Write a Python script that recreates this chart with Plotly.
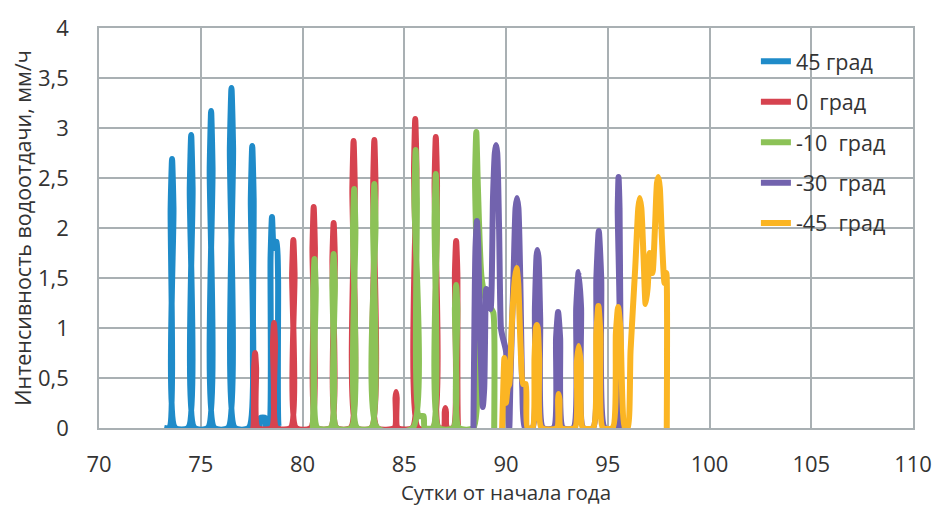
import plotly.graph_objects as go

# Интенсивность водоотдачи снежного покрова для разных углов склона
x_45 = [73.20, 73.45, 73.52, 73.59, 73.66, 73.74, 74.38, 74.46, 74.53, 74.60, 74.69,
        75.35, 75.44, 75.51, 75.58, 75.67, 76.34, 76.43, 76.51, 76.59, 76.68,
        77.36, 77.46, 77.53, 77.60, 77.70, 77.88, 77.93, 78.17, 78.22,
        78.34, 78.43, 78.50, 78.58, 78.66, 78.73, 78.80, 78.87, 78.95]
y_45 = [0, 0, 2.2, 2.69, 2.2, 0, 0, 2.4, 2.93, 2.4, 0,
        0, 2.6, 3.17, 2.6, 0, 0, 2.8, 3.40, 2.8, 0,
        0, 2.3, 2.82, 2.3, 0, 0, 0.1, 0.1, 0,
        0, 1.7, 2.11, 1.8, 1.86, 1.86, 1.5, 0, 0]

x_0 = [77.43, 77.55, 77.62, 77.67, 77.72, 77.80, 78.48, 78.55, 78.60, 78.65, 78.72,
       79.42, 79.49, 79.55, 79.61, 79.68, 80.41, 80.49, 80.55, 80.61, 80.69,
       81.39, 81.47, 81.53, 81.59, 81.67, 82.37, 82.45, 82.51, 82.57, 82.65,
       83.39, 83.47, 83.53, 83.59, 83.67, 84.52, 84.57, 84.60, 84.63, 84.68,
       85.40, 85.48, 85.54, 85.60, 85.68, 86.41, 86.49, 86.55, 86.61, 86.69,
       86.95, 86.99, 87.02, 87.05, 87.09, 87.41, 87.49, 87.55, 87.61, 87.69, 87.75]
y_0 = [0, 0, 0.6, 0.75, 0.6, 0, 0, 0.85, 1.05, 0.85, 0,
       0, 1.55, 1.88, 1.55, 0, 0, 1.8, 2.21, 1.8, 0,
       0, 1.7, 2.05, 1.7, 0, 0, 2.4, 2.87, 2.4, 0,
       0, 2.4, 2.88, 2.4, 0, 0, 0.3, 0.36, 0.3, 0,
       0, 2.6, 3.09, 2.6, 0, 0, 2.45, 2.91, 2.45, 0,
       0, 0.16, 0.2, 0.16, 0, 0, 1.55, 1.87, 1.55, 0, 0]

x_m10 = [80.35, 80.45, 80.53, 80.59, 80.65, 80.73, 81.39, 81.47, 81.53, 81.59, 81.67,
         82.40, 82.48, 82.54, 82.60, 82.68, 83.39, 83.47, 83.53, 83.59, 83.67,
         85.42, 85.50, 85.56, 85.62, 85.72, 85.95, 86.00,
         86.41, 86.49, 86.55, 86.61, 86.69, 87.41, 87.49, 87.55, 87.61, 87.69,
         88.40, 88.48, 88.54, 88.62, 88.80, 89.05, 89.28, 89.38, 89.42]
y_m10 = [0, 0, 1.4, 1.69, 1.4, 0, 0, 1.45, 1.74, 1.45, 0,
         0, 2.0, 2.39, 2.0, 0, 0, 2.05, 2.44, 2.05, 0,
         0, 2.3, 2.78, 2.3, 0.12, 0.12, 0,
         0, 2.1, 2.54, 2.1, 0, 0, 1.2, 1.43, 1.2, 0,
         0, 2.5, 2.96, 2.4, 1.5, 1.25, 1.19, 1.15, 0]

x_m30 = [88.40, 88.50, 88.57, 88.64, 88.72, 88.86, 88.93, 89.00, 89.03, 89.14,
         89.24, 89.36, 89.45, 89.51, 89.57, 89.66, 89.75, 89.81, 90.00, 90.08,
         90.16, 90.22, 90.38, 90.47, 90.54, 90.61, 90.70, 90.80, 90.93,
         91.30, 91.42, 91.50, 91.54, 91.60, 91.68, 91.82,
         92.34, 92.46, 92.56, 92.66, 92.80, 93.31, 93.45, 93.57, 93.69, 93.80,
         94.28, 94.44, 94.56, 94.68, 94.86, 95.42, 95.49, 95.53, 95.58, 95.66]
y_m30 = [0, 1.8, 2.07, 1.8, 1.0, 0.21, 0.4, 1.3, 1.39, 1.25,
         1.19, 2.3, 2.75, 2.83, 2.75, 2.0, 1.0, 0.93, 0.77, 0.3,
         0, 0.5, 1.6, 2.2, 2.30, 2.2, 1.5, 0.4, 0,
         0, 1.2, 1.72, 1.78, 1.7, 1.1, 0,
         0, 0.9, 1.16, 0.9, 0, 0, 1.2, 1.56, 1.2, 0,
         0, 1.5, 1.97, 1.5, 0, 0, 2.2, 2.51, 2.2, 0]

x_m45 = [89.81, 89.88, 89.92, 89.97, 90.00, 90.08, 90.16,
         90.30, 90.44, 90.52, 90.60, 90.72, 90.84, 90.97, 91.05,
         91.30, 91.40, 91.47, 91.51, 91.56, 91.63, 91.75,
         92.50, 92.56, 92.59, 92.63, 92.70, 93.38, 93.48, 93.57, 93.67, 93.78,
         94.28, 94.44, 94.54, 94.64, 94.76, 95.24, 95.40, 95.51, 95.62, 95.84,
         95.98, 96.12, 96.35, 96.50, 96.57, 96.65, 96.76, 96.86, 96.96, 97.06,
         97.13, 97.20, 97.32, 97.42, 97.49, 97.56, 97.66, 97.79, 97.88, 97.90]
y_m45 = [0, 0.5, 0.70, 0.5, 0.25, 0.40, 0.44,
         1.1, 1.5, 1.60, 1.45, 0.8, 0.44, 0.44, 0,
         0, 0.7, 1.0, 1.03, 1.0, 0.7, 0,
         0, 0.28, 0.34, 0.28, 0, 0, 0.65, 0.82, 0.65, 0,
         0, 0.95, 1.22, 0.95, 0, 0, 0.95, 1.21, 1.0, 0,
         0, 0.77, 1.6, 2.2, 2.30, 2.2, 1.7, 1.24, 1.4, 1.75,
         1.6, 1.55, 2.0, 2.45, 2.51, 2.4, 1.9, 1.45, 1.55, 0]

series_names = ["45 град", "0\u00a0 град", "-10\u00a0 град", "-30\u00a0 град", "-45\u00a0 град"]
series_x = [x_45, x_0, x_m10, x_m30, x_m45]
series_y = [y_45, y_0, y_m10, y_m30, y_m45]
colors = ["#1f8bc9", "#d6434f", "#8cc257", "#7263ae", "#fbb523"]

x_ticks = [70, 75, 80, 85, 90, 95, 100, 105, 110]
y_ticks = [0, 0.5, 1, 1.5, 2, 2.5, 3, 3.5, 4]

grid = "#a9b0b3"
text_color = "#333333"
font_family = "Open Sans, Noto Sans, sans-serif"

fig = go.Figure()
for i, (name, xs, ys, c) in enumerate(zip(series_names, series_x, series_y, colors)):
    fig.add_trace(go.Scatter(
        x=xs, y=ys, name=name, mode="lines",
        line=dict(color=c, width=6, shape="spline", smoothing=0.6),
        legendgroup=f"g{i}",
    ))

fig.update_layout(
    width=944, height=507,
    margin=dict(l=99, r=23, t=22, b=75),
    plot_bgcolor="white", paper_bgcolor="white",
    separators=", ",
    font=dict(family=font_family, size=21, color=text_color),
    showlegend=True,
    legend=dict(
        x=0.807, y=0.968, xanchor="left", yanchor="top",
        bgcolor="rgba(0,0,0,0)",
        font=dict(size=21.5, color=text_color),
        tracegroupgap=9.5,
    ),
)
fig.update_xaxes(
    range=[70, 110], tickvals=x_ticks,
    showgrid=True, gridcolor=grid, gridwidth=1.5,
    showline=True, linecolor=grid, linewidth=1.5, mirror=True,
    zeroline=False, ticks="", ticklabelstandoff=16,
    tickfont=dict(size=22),
    title=dict(text="Сутки от начала года", standoff=2,
               font=dict(size=20.5, color=text_color)),
)
fig.update_yaxes(
    range=[0, 4], tickvals=y_ticks,
    showgrid=True, gridcolor=grid, gridwidth=1.5,
    showline=True, linecolor=grid, linewidth=1.5, mirror=True,
    zeroline=False, ticks="", ticklabelstandoff=24,
    tickfont=dict(size=22),
    title=dict(text="Интенсивность водоотдачи, мм/ч", standoff=0,
               font=dict(size=21.5, color=text_color)),
)

fig.write_html("out.html")
